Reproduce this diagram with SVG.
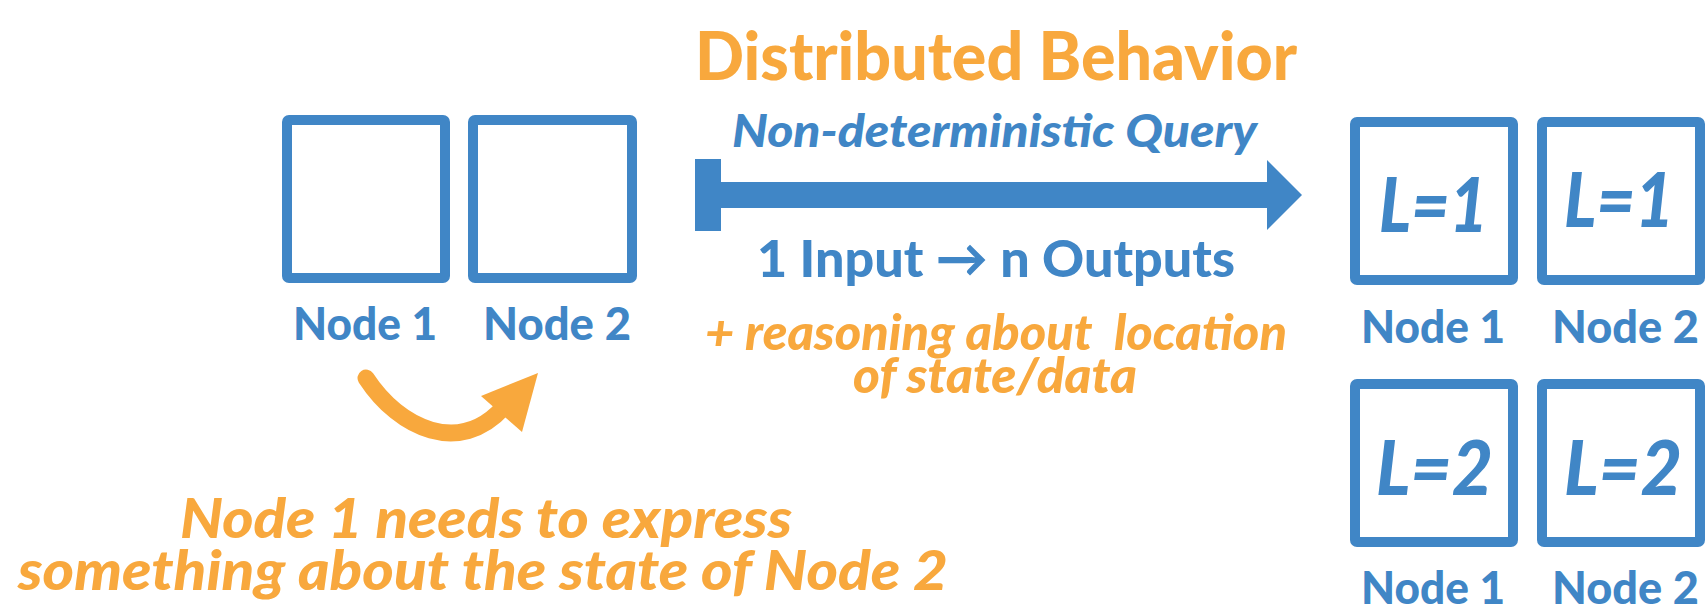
<svg xmlns="http://www.w3.org/2000/svg" width="1708" height="611" viewBox="0 0 1708 611">
<style>
.box{fill:#FFFFFF;stroke:#4086C6;stroke-width:10;}
.lbl{font-family:Lato,"Open Sans","Liberation Sans",sans-serif;font-weight:900;fill:#4086C6;font-size:45px;}
.lv{font-family:Lato,"Open Sans","Liberation Sans",sans-serif;font-weight:900;font-style:italic;fill:#4086C6;font-size:77px;}
.org{font-family:Lato,"Open Sans","Liberation Sans",sans-serif;font-weight:900;fill:#F8A83D;}
.blue{font-family:Lato,"Open Sans","Liberation Sans",sans-serif;font-weight:900;fill:#4086C6;}
.it{font-style:italic;}
</style>
<rect width="1708" height="611" fill="#FFFFFF"/>

<g id="left-node1">
<rect class="box" x="287" y="120" width="158" height="158" rx="2"/>
<text class="lbl" x="293" y="340" textLength="144" lengthAdjust="spacingAndGlyphs">Node 1</text>
</g>
<g id="left-node2">
<rect class="box" x="473" y="120" width="159" height="158" rx="2"/>
<text class="lbl" x="483" y="340" textLength="148" lengthAdjust="spacingAndGlyphs">Node 2</text>
</g>

<g id="title">
<text class="org" x="695" y="80" font-size="66" textLength="602" lengthAdjust="spacingAndGlyphs">Distributed Behavior</text>
</g>
<g id="query-label">
<text class="blue it" x="732" y="147" font-size="45" textLength="525" lengthAdjust="spacingAndGlyphs">Non-deterministic Query</text>
</g>
<g id="io-label">
<text class="blue" x="757" y="277" font-size="52" textLength="478" lengthAdjust="spacingAndGlyphs">1 Input → n Outputs</text>
</g>
<g id="reasoning-label">
<text class="org it" x="705" y="350" font-size="50" textLength="582" lengthAdjust="spacingAndGlyphs" xml:space="preserve">+ reasoning about  location</text>
<text class="org it" x="853" y="393" font-size="50" textLength="284" lengthAdjust="spacingAndGlyphs">of state/data</text>
</g>

<g id="connectors">
<g id="query-arrow" fill="#4086C6">
<rect x="695" y="159" width="26" height="72"/>
<rect x="720" y="182" width="548" height="26"/>
<polygon points="1267,160 1302,195 1267,230"/>
</g>
<g id="express-arrow">
<path d="M366,378 C400,430 460,455 503,408" fill="none" stroke="#F8A83D" stroke-width="17" stroke-linecap="round"/>
<polygon points="538,373 481,396 522,432" fill="#F8A83D"/>
</g>
</g>

<g id="note">
<text class="org it" x="180" y="538" font-size="56" textLength="612" lengthAdjust="spacingAndGlyphs">Node 1 needs to express</text>
<text class="org it" x="18" y="590" font-size="56" textLength="930" lengthAdjust="spacingAndGlyphs">something about the state of Node 2</text>
</g>

<g id="right-l1-node1">
<rect class="box" x="1355" y="122" width="158" height="158" rx="2"/>
<text class="lv" x="1379" y="232" textLength="109" lengthAdjust="spacingAndGlyphs">L=1</text>
<text class="lbl" x="1361" y="343" textLength="144" lengthAdjust="spacingAndGlyphs">Node 1</text>
</g>
<g id="right-l1-node2">
<rect class="box" x="1542" y="122" width="158" height="158" rx="2"/>
<text class="lv" x="1564" y="227" textLength="110" lengthAdjust="spacingAndGlyphs">L=1</text>
<text class="lbl" x="1552" y="343" textLength="147" lengthAdjust="spacingAndGlyphs">Node 2</text>
</g>
<g id="right-l2-node1">
<rect class="box" x="1355" y="384" width="158" height="158" rx="2"/>
<text class="lv" x="1376" y="495" textLength="117" lengthAdjust="spacingAndGlyphs">L=2</text>
<text class="lbl" x="1361" y="604" textLength="144" lengthAdjust="spacingAndGlyphs">Node 1</text>
</g>
<g id="right-l2-node2">
<rect class="box" x="1542" y="384" width="158" height="158" rx="2"/>
<text class="lv" x="1564" y="495" textLength="118" lengthAdjust="spacingAndGlyphs">L=2</text>
<text class="lbl" x="1552" y="604" textLength="147" lengthAdjust="spacingAndGlyphs">Node 2</text>
</g>
</svg>
